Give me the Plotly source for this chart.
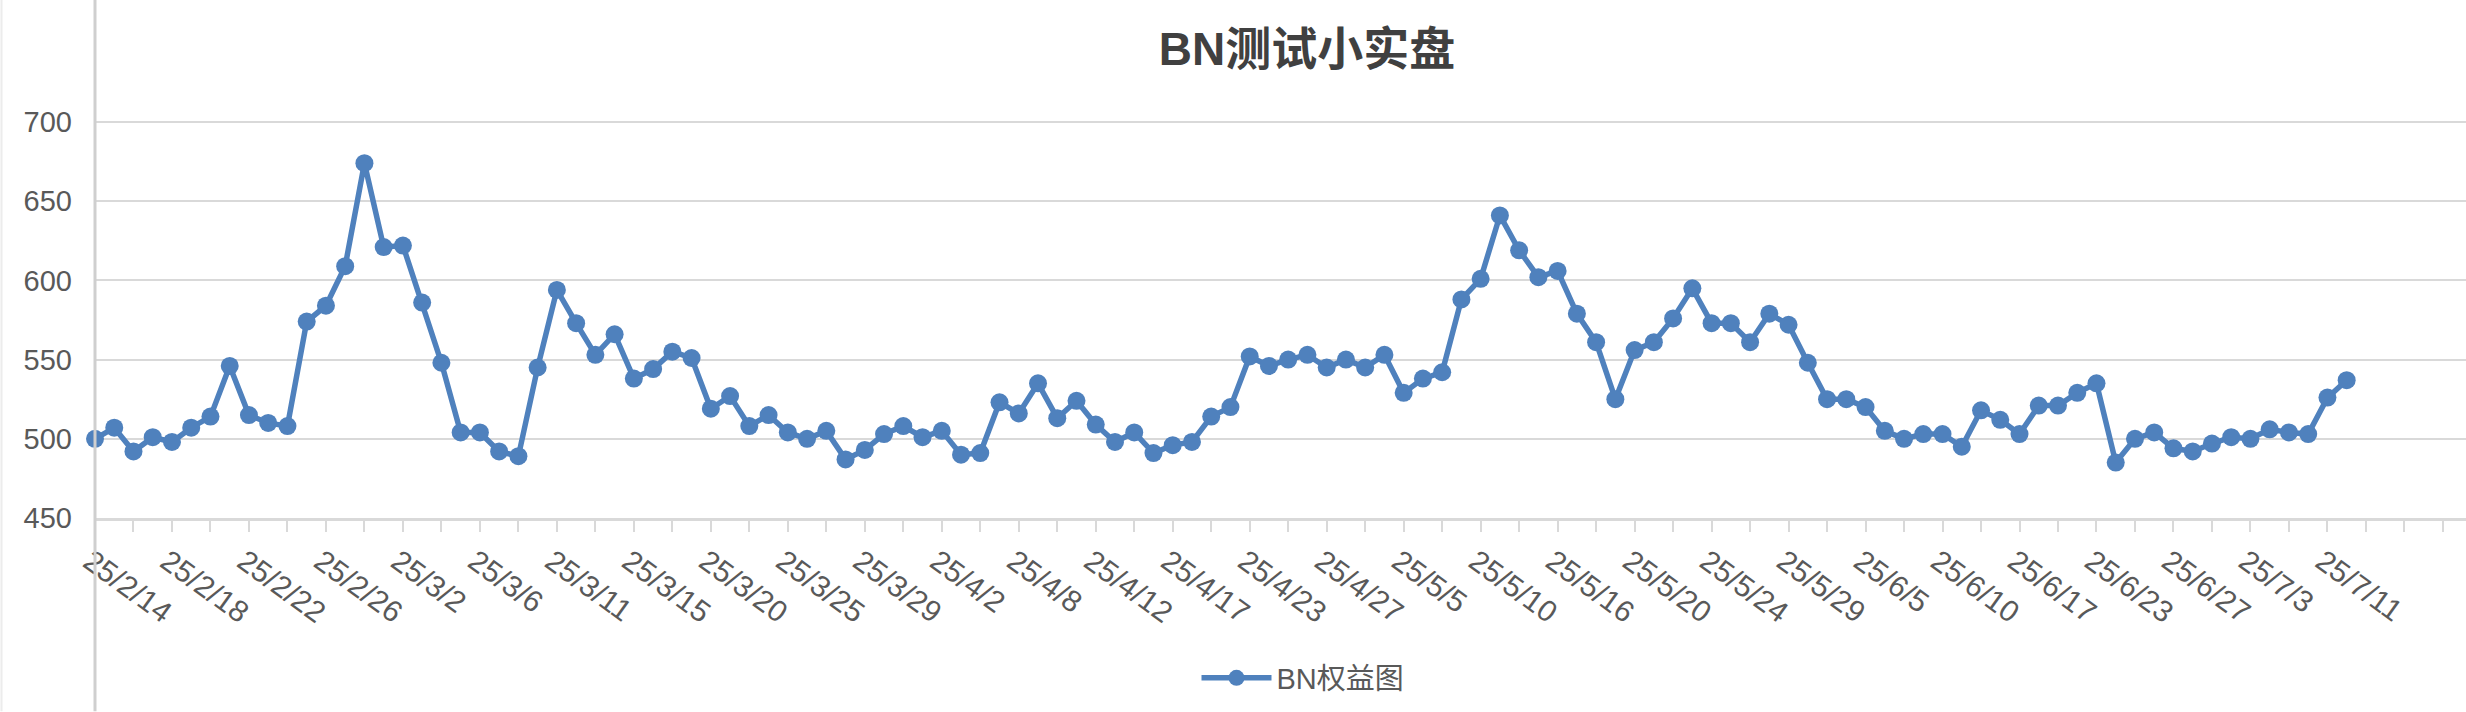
"""BN测试小实盘 — equity curve (BN权益图), Excel-style line chart in Plotly."""

import plotly.graph_objects as go

# Visible category labels, one every 4 points
TICK_LABELS = [
    "25/2/14", "25/2/18", "25/2/22", "25/2/26", "25/3/2", "25/3/6",
    "25/3/11", "25/3/15", "25/3/20", "25/3/25", "25/3/29", "25/4/2",
    "25/4/8", "25/4/12", "25/4/17", "25/4/23", "25/4/27", "25/5/5",
    "25/5/10", "25/5/16", "25/5/20", "25/5/24", "25/5/29", "25/6/5",
    "25/6/10", "25/6/17", "25/6/23", "25/6/27", "25/7/3", "25/7/11",
]
LABEL_EVERY = 4
TICK_EVERY = 2
AXIS_SLOTS = 124  # the category axis runs a little past the last point

# Equity values
EQUITY = [
    500, 507, 492, 501, 498, 507, 514, 546, 515, 510,
    508, 574, 584, 609, 674, 621, 622, 586, 548, 504,
    504, 492, 489, 545, 594, 573, 553, 566, 538, 544,
    555, 551, 519, 527, 508, 515, 504, 500, 505, 487,
    493, 503, 508, 501, 505, 490, 491, 523, 516, 535,
    513, 524, 509, 498, 504, 491, 496, 498, 514, 520,
    552, 546, 550, 553, 545, 550, 545, 553, 529, 538,
    542, 588, 601, 641, 619, 602, 606, 579, 561, 525,
    556, 561, 576, 595, 573, 573, 561, 579, 572, 548,
    525, 525, 520, 505, 500, 503, 503, 495, 518, 512,
    503, 521, 521, 529, 535, 485, 500, 504, 494, 492,
    497, 501, 500, 506, 504, 503, 526, 537,
]

Y_TICKS = [450, 500, 550, 600, 650, 700]

BLUE = "#4f81bd"
GRID = "#d9d9d9"
TEXT = "#595959"
FONT = "Liberation Sans, Noto Sans CJK SC, sans-serif"

W, H = 2466, 712
M_L, M_B = 95, 193.5

x_idx = list(range(len(EQUITY)))
tickvals = list(range(0, AXIS_SLOTS, TICK_EVERY))
ticktext = []
for v in tickvals:
    k = v // LABEL_EVERY
    if v % LABEL_EVERY == 0 and k < len(TICK_LABELS):
        ticktext.append(TICK_LABELS[k])
    else:
        ticktext.append("")

fig = go.Figure(go.Scatter(
    x=x_idx,
    y=EQUITY,
    mode="lines+markers",
    name="BN权益图",
    line=dict(color=BLUE, width=5.5),
    marker=dict(color=BLUE, size=18),
    cliponaxis=False,
))

# full-height vertical rule at the value axis, plus faint left edge
fig.add_shape(type="line", xref="paper", yref="paper",
              x0=0, x1=0, y0=-M_B / (H - M_B), y1=1,
              line=dict(color="#cfcfcf", width=3), layer="above")
fig.add_shape(type="line", xref="paper", yref="paper",
              x0=-(M_L - 1.5) / (W - M_L), x1=-(M_L - 1.5) / (W - M_L),
              y0=-M_B / (H - M_B), y1=1,
              line=dict(color="#ececec", width=2))

fig.update_layout(
    width=W, height=H,
    margin=dict(l=M_L, r=0, t=0, b=M_B),
    paper_bgcolor="white", plot_bgcolor="white",
    font=dict(family=FONT, color=TEXT, size=29),
    title=dict(
        text="<b>BN测试小实盘</b>",
        font=dict(family=FONT, size=46, color="#404040"),
        xref="container", yref="container",
        x=1307 / W, xanchor="center",
        y=1 - 49 / H, yanchor="middle",
    ),
    showlegend=True,
    legend=dict(
        orientation="h",
        xref="container", yref="container",
        x=1303 / W, xanchor="center",
        y=1 - 678 / H, yanchor="middle",
        font=dict(family=FONT, size=29, color=TEXT),
        itemwidth=70,
    ),
    xaxis=dict(
        type="linear",
        automargin=False,
        range=[0, 123.2],
        tickvals=tickvals,
        ticktext=ticktext,
        tickangle=36,
        ticklabelshift=-5,
        ticks="outside", ticklen=11, tickwidth=2, tickcolor=GRID,
        showline=True, linecolor=GRID, linewidth=3,
        showgrid=False, zeroline=False,
        tickfont=dict(family=FONT, size=30, color=TEXT),
    ),
    yaxis=dict(
        automargin=False,
        range=[450, 777],
        tickvals=Y_TICKS,
        showgrid=True, gridcolor=GRID, gridwidth=2,
        showline=False, zeroline=False, ticks="",
        ticklabelstandoff=22,
        tickfont=dict(family=FONT, size=29, color=TEXT),
    ),
)

# the page's default body margin would offset the whole figure
fig.write_html(
    "out.html",
    config={"displayModeBar": False},
    post_script="document.body.style.margin = '0px';",
)
